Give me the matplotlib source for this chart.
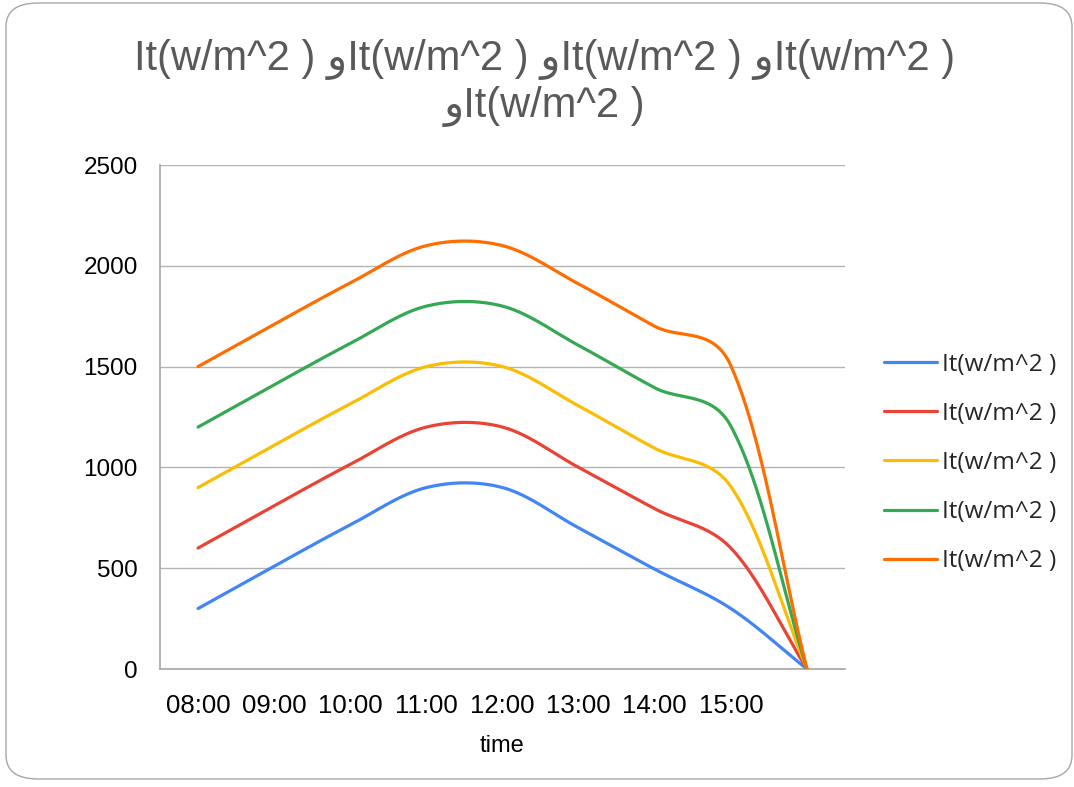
import numpy as np
import matplotlib
matplotlib.use("Agg")
import matplotlib.pyplot as plt
from matplotlib.patches import FancyBboxPatch

# ---- data ----
categories = ["08:00", "09:00", "10:00", "11:00", "12:00", "13:00", "14:00", "15:00", ""]
series_names = ["It(w/m^2 )"] * 5
s1 = [300, 510, 715, 900, 900, 700, 495, 300, 0]
s2 = [600, 810, 1015, 1200, 1200, 1000, 795, 600, 0]
s3 = [900, 1110, 1315, 1500, 1500, 1305, 1095, 905, 0]
s4 = [1200, 1410, 1615, 1800, 1800, 1605, 1395, 1205, 0]
s5 = [1500, 1710, 1915, 2100, 2100, 1910, 1700, 1505, 0]
series = [s1, s2, s3, s4, s5]
colors = ["#4285F4", "#EA4335", "#FBBC04", "#34A853", "#FF6D01"]
title_text = "It(w/m^2 ) وIt(w/m^2 ) وIt(w/m^2 ) وIt(w/m^2 )\nوIt(w/m^2 )"
x_label = "time"
y_ticks = [0, 500, 1000, 1500, 2000, 2500]

W, H = 1074, 787
AX_L, AX_B, AX_W, AX_H = 160, 669, 685, 504  # pixel box of the plot area
Y_MAX = 2500
N = len(categories)
SX = AX_W / N          # pixels per category
SY = AX_H / Y_MAX      # pixels per value unit


def smooth(xs, ys, n=60):
    """Spreadsheet-like smoothed line: cubic Bezier with centripetal-scaled tangents (pixel space)."""
    pts = np.column_stack([np.asarray(xs, float) * SX, np.asarray(ys, float) * SY])
    m = len(pts)
    out = []
    for i in range(m - 1):
        p0 = pts[i - 1] if i > 0 else pts[i]
        p1 = pts[i]
        p2 = pts[i + 1]
        p3 = pts[i + 2] if i + 2 < m else pts[i + 1]
        r01 = np.sqrt(np.hypot(*(p1 - p0)))
        r12 = np.sqrt(np.hypot(*(p2 - p1)))
        r23 = np.sqrt(np.hypot(*(p3 - p2)))
        f1 = 2 * r12 / (r01 + r12) if (r01 + r12) > 0 else 0
        f2 = 2 * r12 / (r12 + r23) if (r12 + r23) > 0 else 0
        c1 = p1 + (p2 - p0) * f1 / 6.0
        c2 = p2 - (p3 - p1) * f2 / 6.0
        t = np.linspace(0, 1, n)[:, None]
        seg = ((1 - t) ** 3) * p1 + 3 * ((1 - t) ** 2) * t * c1 + 3 * (1 - t) * t ** 2 * c2 + t ** 3 * p2
        out.append(seg if i == 0 else seg[1:])
    arr = np.vstack(out)
    return arr[:, 0] / SX, arr[:, 1] / SY


fig = plt.figure(figsize=(W / 100, H / 100), dpi=100)

# rounded frame
frame = FancyBboxPatch((6 / W, 8 / H), (1066 / W), (776 / H),
                       boxstyle="round,pad=0,rounding_size=0.03",
                       transform=fig.transFigure, facecolor="white",
                       edgecolor="#a6a6a6", linewidth=1.0, zorder=-5)
fig.patches.append(frame)

ax = fig.add_axes([AX_L / W, 1 - AX_B / H, AX_W / W, AX_H / H])
ax.set_zorder(2)
ax.set_facecolor("none")

x = np.arange(N)
lines = []
for ys, c, name in zip(series, colors, series_names):
    sx, sy = smooth(x, ys)
    ln, = ax.plot(sx, sy, color=c, linewidth=2.3, label=name, solid_capstyle="round", zorder=3)
    lines.append(ln)

ax.set_xlim(-0.5, N - 0.5)
ax.set_ylim(0, Y_MAX)
ax.set_yticks(y_ticks)
ax.set_yticklabels([str(v) for v in y_ticks], fontsize=17.5,
                   family=["Liberation Sans", "DejaVu Sans"], color="black")
ax.set_xticks(x)
ax.set_xticklabels(categories, fontsize=18.5,
                   family=["Liberation Sans", "DejaVu Sans"], color="black")
ax.tick_params(axis="both", length=0)
ax.tick_params(axis="y", pad=16)
ax.tick_params(axis="x", pad=18)
ax.grid(axis="y", color="#b3b3b3", linewidth=1.0, zorder=1)
for side in ["top", "right"]:
    ax.spines[side].set_visible(False)
for side in ["left", "bottom"]:
    ax.spines[side].set_color("#a6a6a6")
    ax.spines[side].set_linewidth(1.2)

ax.set_xlabel(x_label, fontsize=17, family=["Liberation Sans", "DejaVu Sans"],
              labelpad=12, color="black")

fig.text(545 / W, 1 - 83 / H, title_text, ha="center", va="center", fontsize=30,
         color="#595959", linespacing=1.2,
         family=["Liberation Sans", "DejaVu Sans"])

leg = fig.legend(handles=lines, labels=series_names, loc="center left",
                 bbox_to_anchor=(884 / W, 1 - 463 / H), bbox_transform=fig.transFigure,
                 frameon=False, borderpad=0, borderaxespad=0,
                 prop={"family": ["Open Sans", "DejaVu Sans"], "size": 17.5},
                 handlelength=2.2, handletextpad=0.2, labelspacing=1.03)
for t in leg.get_texts():
    t.set_color("#262626")

fig.savefig("out.png", dpi=100)
